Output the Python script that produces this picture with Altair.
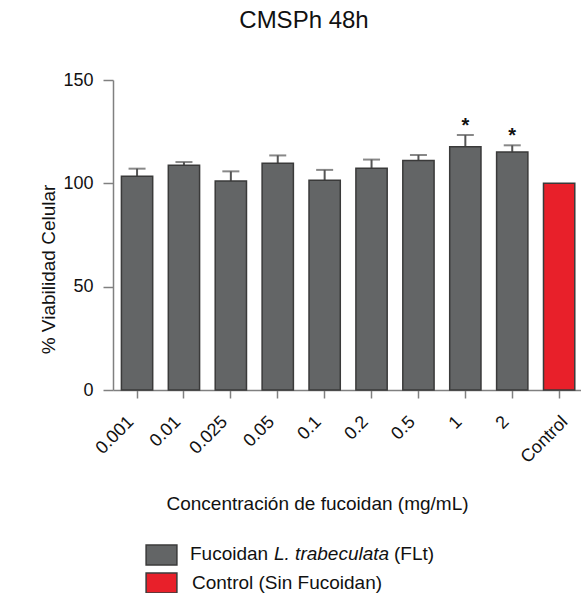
import altair as alt
import pandas as pd

# ---- data ----
conc = ["0.001", "0.01", "0.025", "0.05", "0.1", "0.2", "0.5", "1", "2", "Control"]
viab = [103.4, 108.7, 101.1, 109.7, 101.5, 107.3, 111.1, 117.7, 115.2, 100.0]
sem = [3.7, 1.6, 4.7, 3.8, 5.0, 4.2, 2.6, 5.7, 3.2, 0.0]
sig = ["", "", "", "", "", "", "", "*", "*", ""]
group_labels = ["Fucoidan L. trabeculata (FLt)", "Control (Sin Fucoidan)"]
legend_parts = ["Fucoidan", "L. trabeculata", "(FLt)"]
groups = [group_labels[0]] * 9 + [group_labels[1]]
colors = ["#636566", "#e8202a"]

df = pd.DataFrame({"conc": conc, "viab": viab, "sem": sem, "sig": sig, "grupo": groups})
df["upper"] = df["viab"] + df["sem"]

FONT = "Liberation Sans"
AXC = "#808080"
TXT = "#111111"

xenc = alt.X(
    "conc:N",
    sort=conc,
    scale=alt.Scale(paddingInner=0.333, paddingOuter=0.156, align=0.575),
    axis=alt.Axis(
        title="Concentración de fucoidan (mg/mL)",
        titleFont=FONT, titleFontSize=19, titleFontWeight="normal", titleColor=TXT,
        titleX=204, titleY=119, titleAlign="center", titleBaseline="alphabetic",
        labelAngle=315, labelAlign="right", labelBaseline="middle",
        labelFont=FONT, labelFontSize=18, labelColor=TXT, labelPadding=21,
        labelOffset={"condition": {"test": "datum.value === 'Control'", "value": 6}, "value": -6},
        tickSize=8, tickColor=AXC, tickWidth=1.5,
        domainColor=AXC, domainWidth=1.5, grid=False,
    ),
)
yscale = alt.Scale(domain=[0, 150], nice=False)
yaxis = alt.Axis(
    title="% Viabilidad Celular", values=[0, 50, 100, 150],
    titleFont=FONT, titleFontSize=19, titleFontWeight="normal", titleColor=TXT,
    titleX=-65, titleY=189, titleAngle=270, titleAlign="center", titleBaseline="middle",
    labelFont=FONT, labelFontSize=18, labelColor=TXT, labelPadding=10,
    tickSize=10, tickColor=AXC, tickWidth=1.5,
    domainColor=AXC, domainWidth=1.5, grid=False,
)

base = alt.Chart(df)

bars = base.mark_bar(stroke="#3a3a3a", strokeWidth=1.5).encode(
    x=xenc,
    y=alt.Y("viab:Q", scale=yscale, axis=yaxis),
    color=alt.Color(
        "grupo:N",
        scale=alt.Scale(domain=group_labels, range=colors),
        legend=alt.Legend(
            title=None, orient="none", legendX=33.5, legendY=460,
            symbolType="M-1.1,-0.71L1.1,-0.71L1.1,0.71L-1.1,0.71Z", symbolSize=784,
            symbolStrokeColor="#3a3a3a", symbolStrokeWidth=1.5, symbolOpacity=1,
            labelFont=FONT, labelFontSize=19, labelColor=TXT, labelOffset=15.5,
            labelExpr=f"datum.label === '{group_labels[0]}' ? '' : datum.label",
            rowPadding=0, padding=0, labelLimit=400,
        ),
    ),
)

errs = base.transform_filter("datum.sem > 0")
rules = errs.mark_rule(color="#555555", strokeWidth=2).encode(
    x=alt.X("conc:N", sort=conc), y="viab:Q", y2="upper:Q"
)
caps = errs.mark_tick(color="#555555", thickness=2, size=17).encode(
    x=alt.X("conc:N", sort=conc), y="upper:Q"
)
stars = base.transform_filter("datum.sig != ''").mark_text(
    font=FONT, fontSize=20, fontWeight="bold", color=TXT, baseline="alphabetic", dy=-3
).encode(x=alt.X("conc:N", sort=conc), y="upper:Q", text="sig:N")

# first legend label with its italic species name
leg_x = [77, 161, 281]
leg_style = ["normal", "italic", "normal"]
leg_layers = [
    alt.Chart(pd.DataFrame({"t": [legend_parts[i]]}))
    .mark_text(font=FONT, fontSize=19, fontStyle=leg_style[i], color=TXT,
               align="left", baseline="middle")
    .encode(text="t:N", x=alt.value(leg_x[i]), y=alt.value(474))
    for i in range(3)
]

chart = (
    alt.layer(rules, bars, caps, stars, *leg_layers)
    .properties(
        width=468, height=310,
        title=alt.TitleParams(
            "CMSPh 48h", font=FONT, fontSize=24, fontWeight="normal", color=TXT,
            anchor="middle", dx=-43, offset=38,
        ),
        autosize=alt.AutoSizeParams(type="none"),
        padding={"left": 113, "top": 80, "right": 0, "bottom": 203},
    )
    .configure_view(stroke=None)
)

chart.save("out.html", embed_options={"renderer": "svg", "actions": False})
